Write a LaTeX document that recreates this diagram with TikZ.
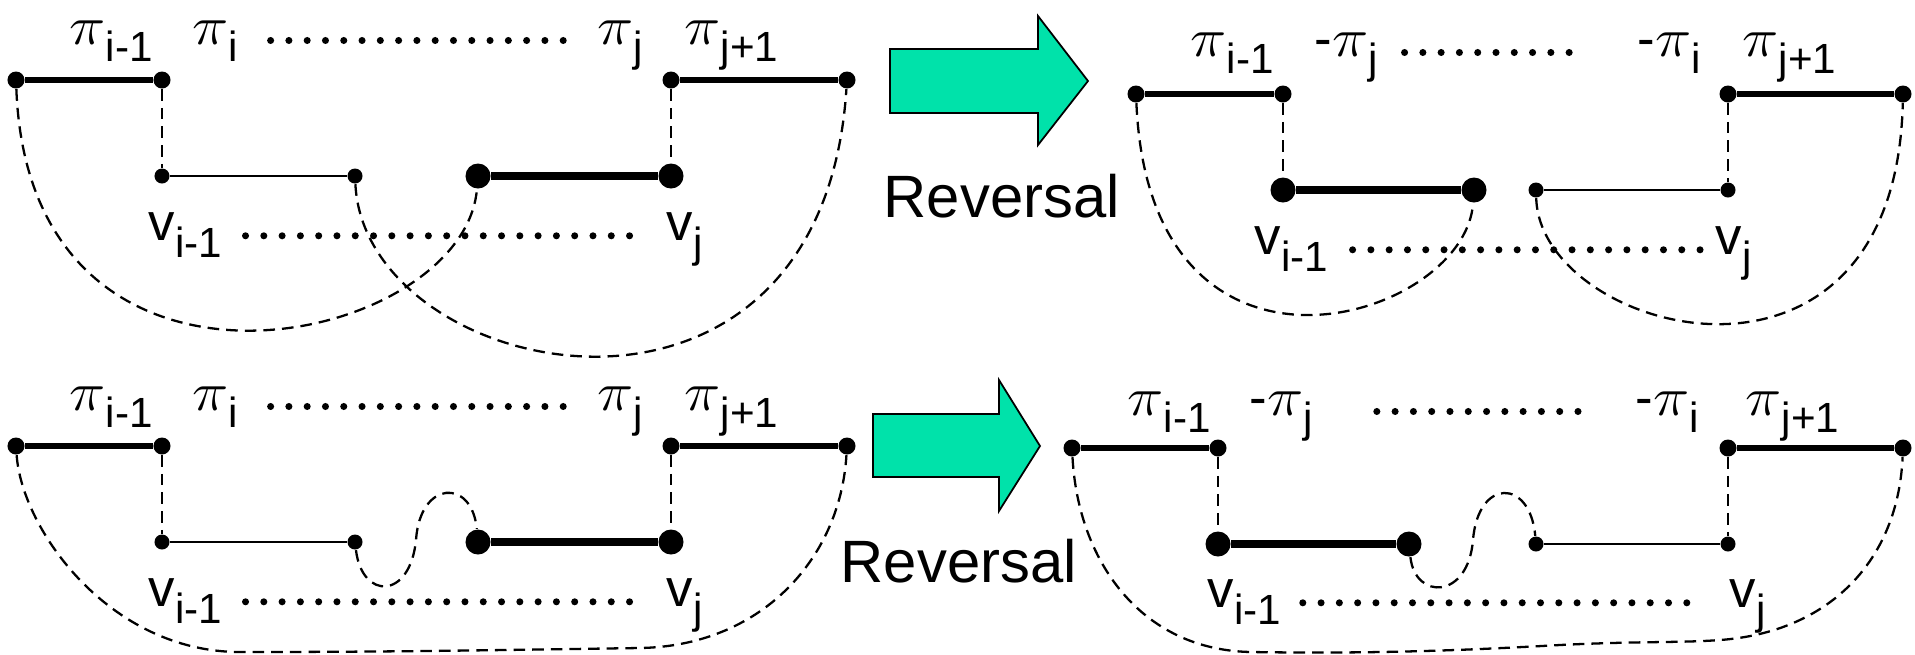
\documentclass[tikz,border=0pt]{standalone}
\usepackage{fontspec}
\setmainfont{Liberation Sans}
\definecolor{revgreen}{RGB}{0,226,170}
\newcommand{\pisym}{{\fontsize{13}{13}\selectfont\scalebox{1.45}[1.3]{$\pi$}}}
\newcommand{\lsub}[1]{\raisebox{-5pt}{\fontsize{12}{12}\selectfont #1}}

\begin{document}
\begin{tikzpicture}[
  x=0.01cm, y=-0.01cm,
  endpt/.style={circle, fill, inner sep=0pt, minimum size=0.17cm},
  smallpt/.style={endpt, minimum size=0.15cm},
  bigpt/.style={endpt, minimum size=0.25cm},
  adj/.style={line width=1.7pt},
  revseg/.style={line width=2.5pt},
  thinseg/.style={line width=0.6pt},
  conn/.style={line width=0.65pt, dash pattern=on 3.3pt off 2pt},
  leader/.style={line width=2pt, line cap=round, dash pattern=on 0pt off 5.2pt},
  lbl/.style={font=\fontsize{15}{15}\selectfont, inner sep=0pt, anchor=base west},
  bigword/.style={font=\fontsize{17}{17}\selectfont, inner sep=0pt, anchor=base west},
  blockarrow/.style={fill=revgreen, draw=black, line width=0.5pt},
]
\useasboundingbox (0,0) rectangle (1915,654);

% Top left -- before the reversal
\node[endpt]   (a1) at (16,80)   {};
\node[endpt]   (a2) at (162,80)  {};
\node[smallpt] (a3) at (162,176) {};
\node[smallpt] (a4) at (355,176) {};
\node[bigpt]   (a5) at (478,176) {};
\node[bigpt]   (a6) at (671,176) {};
\node[endpt]   (a7) at (671,80)  {};
\node[endpt]   (a8) at (847,80)  {};

\draw[adj] (a1) -- (a2);
\draw[thinseg] (a3) -- (a4);
\draw[revseg] (a5) -- (a6);
\draw[adj] (a7) -- (a8);
\draw[conn] (a1) .. controls (30,442) and (464,347) .. (a5);
\draw[conn] (a4) .. controls (365,382) and (821,478) .. (a8);

\node[lbl] (a-pim)  at (69,44)   {\pisym\lsub{i-1}};
\node[lbl] (a-pii)  at (192,44)  {\pisym\lsub{i}};
\node[lbl] (a-pij)  at (597,44)  {\pisym\lsub{j}};
\node[lbl] (a-pijp) at (684,44)  {\pisym\lsub{j+1}};
\node[lbl] (a-vim)  at (148,240) {v\lsub{i-1}};
\node[lbl] (a-vj)   at (666,240) {v\lsub{j}};
\draw[leader, shorten <=9pt, shorten >=9pt] ([yshift=1pt]a-pii.base east) -- ([yshift=1pt]a-pij.base west);
\draw[leader, shorten <=6.5pt, shorten >=6.3pt] ([yshift=1.2pt]a-vim.base east) -- ([yshift=1.2pt]a-vj.base west);

% Top arrow
\draw[blockarrow] (890,49) -- (1038,49) -- (1038,16) -- (1088,81) -- (1038,145) -- (1038,113) -- (890,113) -- cycle;
\node[bigword] (rev1) at (883,217) {Reversal};

% Top right -- after the reversal
\node[endpt]   (b1) at (1136,94)  {};
\node[endpt]   (b2) at (1283,94)  {};
\node[bigpt]   (b3) at (1283,190) {};
\node[bigpt]   (b4) at (1474,190) {};
\node[smallpt] (b5) at (1536,190) {};
\node[smallpt] (b6) at (1728,190) {};
\node[endpt]   (b7) at (1728,94)  {};
\node[endpt]   (b8) at (1903,94)  {};

\draw[adj] (b1) -- (b2);
\draw[revseg] (b3) -- (b4);
\draw[thinseg] (b5) -- (b6);
\draw[adj] (b7) -- (b8);
\draw[conn] (b1) .. controls (1150,417) and (1465,321) .. (b4);
\draw[conn] (b5) .. controls (1540,334) and (1895,430) .. (b8);

\node[lbl] (b-pim)  at (1190,56)  {\pisym\lsub{i-1}};
\node[lbl] (b-mpj)  at (1314,56)  {-\pisym\lsub{j}};
\node[lbl] (b-mpi)  at (1637,56)  {-\pisym\lsub{i}};
\node[lbl] (b-pijp) at (1742,56)  {\pisym\lsub{j+1}};
\node[lbl] (b-vim)  at (1254,254) {v\lsub{i-1}};
\node[lbl] (b-vj)   at (1715,254) {v\lsub{j}};
\draw[leader, shorten <=7.4pt, shorten >=15pt] ([yshift=1pt]b-mpj.base east) -- ([yshift=1pt]b-mpi.base west);
\draw[leader, shorten <=6.8pt, shorten >=1.5pt] ([yshift=1.2pt]b-vim.base east) -- ([yshift=1.2pt]b-vj.base west);

% Bottom left -- before the reversal
\node[endpt]   (c1) at (16,446)  {};
\node[endpt]   (c2) at (162,446) {};
\node[smallpt] (c3) at (162,542) {};
\node[smallpt] (c4) at (355,542) {};
\node[bigpt]   (c5) at (478,542) {};
\node[bigpt]   (c6) at (671,542) {};
\node[endpt]   (c7) at (671,446) {};
\node[endpt]   (c8) at (847,446) {};

\draw[adj] (c1) -- (c2);
\draw[thinseg] (c3) -- (c4);
\draw[revseg] (c5) -- (c6);
\draw[adj] (c7) -- (c8);
\draw[conn] (c1) .. controls (22,530) and (110,652) .. (240,652)
  .. controls (400,652) and (500,650) .. (640,648)
  .. controls (760,646) and (840,560) .. (c8);
\draw[conn] (c4) .. controls (362,600) and (410,600) .. (416,540)
  .. controls (420,480) and (472,478) .. (c5);

\node[lbl] (c-pim)  at (69,410)  {\pisym\lsub{i-1}};
\node[lbl] (c-pii)  at (192,410) {\pisym\lsub{i}};
\node[lbl] (c-pij)  at (597,410) {\pisym\lsub{j}};
\node[lbl] (c-pijp) at (684,410) {\pisym\lsub{j+1}};
\node[lbl] (c-vim)  at (148,606) {v\lsub{i-1}};
\node[lbl] (c-vj)   at (666,606) {v\lsub{j}};
\draw[leader, shorten <=9pt, shorten >=9pt] ([yshift=1pt]c-pii.base east) -- ([yshift=1pt]c-pij.base west);
\draw[leader, shorten <=6.5pt, shorten >=6.3pt] ([yshift=1.2pt]c-vim.base east) -- ([yshift=1.2pt]c-vj.base west);

% Bottom arrow
\draw[blockarrow] (873,414) -- (999,414) -- (999,380) -- (1040,446) -- (999,511) -- (999,477) -- (873,477) -- cycle;
\node[bigword] (rev2) at (840,582) {Reversal};

% Bottom right -- after the reversal
\node[endpt]   (d1) at (1072,448) {};
\node[endpt]   (d2) at (1218,448) {};
\node[bigpt]   (d3) at (1218,544) {};
\node[bigpt]   (d4) at (1409,544) {};
\node[smallpt] (d5) at (1536,544) {};
\node[smallpt] (d6) at (1728,544) {};
\node[endpt]   (d7) at (1728,448) {};
\node[endpt]   (d8) at (1903,448) {};

\draw[adj] (d1) -- (d2);
\draw[revseg] (d3) -- (d4);
\draw[thinseg] (d5) -- (d6);
\draw[adj] (d7) -- (d8);
\draw[conn] (d1) .. controls (1078,560) and (1140,650) .. (1251,652)
  .. controls (1380,654) and (1470,650) .. (1560,645)
  .. controls (1640,641) and (1680,643) .. (1720,640)
  .. controls (1830,632) and (1898,560) .. (d8);
\draw[conn] (d4) .. controls (1415,600) and (1468,600) .. (1473,540)
  .. controls (1478,478) and (1530,478) .. (d5);

\node[lbl] (d-pim)  at (1127,415) {\pisym\lsub{i-1}};
\node[lbl] (d-mpj)  at (1249,415) {-\pisym\lsub{j}};
\node[lbl] (d-mpi)  at (1635,415) {-\pisym\lsub{i}};
\node[lbl] (d-pijp) at (1745,415) {\pisym\lsub{j+1}};
\node[lbl] (d-vim)  at (1207,607) {v\lsub{i-1}};
\node[lbl] (d-vj)   at (1729,607) {v\lsub{j}};
\draw[leader, shorten <=18pt, shorten >=12pt] ([yshift=1pt]d-mpj.base east) -- ([yshift=1pt]d-mpi.base west);
\draw[leader, shorten <=6pt, shorten >=8pt] ([yshift=1.2pt]d-vim.base east) -- ([yshift=1.2pt]d-vj.base west);

% Vertical links from the upper ends down to the middle pieces
\foreach \u/\l in {a2/a3, a7/a6, b2/b3, b7/b6, c2/c3, c7/c6, d2/d3, d7/d6} {
  \draw[conn] (\u) -- (\l);
}

\end{tikzpicture}
\end{document}
